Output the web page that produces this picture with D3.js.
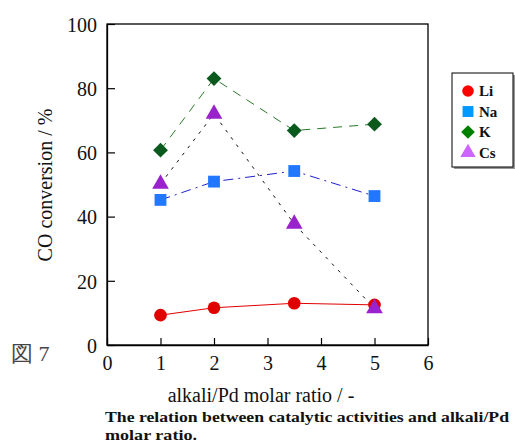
<!DOCTYPE html>
<html>
<head>
<meta charset="utf-8">
<script src="https://cdn.jsdelivr.net/npm/d3@7"></script>
<style>
  body { margin: 0; background: #fff; }
</style>
</head>
<body>
<svg width="515" height="446"></svg>
<script>
const ratios = [1, 2, 3.5, 5];
const li = [9.3, 11.6, 13.0, 12.5];
const na = [45.2, 50.9, 54.2, 46.4];
const k = [60.7, 83.0, 66.8, 68.8];
const cs = [50.2, 72.0, 37.7, 11.4];
const xTicks = [0, 1, 2, 3, 4, 5, 6];
const yTicks = [0, 20, 40, 60, 80, 100];
const seriesNames = ["Li", "Na", "K", "Cs"];

const serif = "Liberation Serif";

const margin = { top: 24, left: 107, right: 87, bottom: 101 };
const width = 515;
const height = 446;
const innerWidth = width - margin.left - margin.right;
const innerHeight = height - margin.top - margin.bottom;

const svg = d3.select("svg");

const xScale = d3.scaleLinear().domain([0, 6]).range([0, innerWidth]);
const yScale = d3.scaleLinear().domain([0, 100]).range([innerHeight, 0]);

const chart = svg
  .append("g")
  .attr("transform", `translate(${margin.left}, ${margin.top})`);

// frame
chart
  .append("rect")
  .attr("width", innerWidth)
  .attr("height", innerHeight)
  .attr("fill", "none")
  .attr("stroke", "#000")
  .attr("stroke-width", 1.3);

// axes with inward ticks
const xAxis = chart
  .append("g")
  .attr("transform", `translate(0, ${innerHeight})`)
  .call(d3.axisBottom(xScale).tickValues(xTicks).tickFormat(d3.format("d"))
    .tickSizeInner(-7).tickSizeOuter(0).tickPadding(11));
const yAxis = chart
  .append("g")
  .call(d3.axisLeft(yScale).tickValues(yTicks).tickFormat(d3.format("d"))
    .tickSizeInner(-8).tickSizeOuter(0).tickPadding(10));
[xAxis, yAxis].forEach((a) => {
  a.attr("font-family", serif).attr("font-size", 20);
  a.select(".domain").attr("stroke-width", 1.3);
  a.selectAll(".tick line").attr("stroke-width", 1.2);
  a.selectAll(".tick text").attr("fill", "#111");
});
yAxis.selectAll(".tick text").attr("dy", "0.36em");

const diamond = {
  draw(ctx, size) {
    const r = Math.sqrt(size / 2);
    ctx.moveTo(0, -r);
    ctx.lineTo(r, 0);
    ctx.lineTo(0, r);
    ctx.lineTo(-r, 0);
    ctx.closePath();
  },
};

const series = [
  { name: "Li", values: li, line: "#e00000", dash: null, shape: d3.symbolCircle, size: 125, fill: "#e00000", legendFill: "#ff0000" },
  { name: "Na", values: na, line: "#1f1fcc", dash: "10,5,2,5", shape: d3.symbolSquare, size: 140, fill: "#2277ff", legendFill: "#0099ff" },
  { name: "K", values: k, line: "#2a7a2a", dash: "9,7", shape: diamond, size: 110, fill: "#0a5a1e", legendFill: "#008000" },
  { name: "Cs", values: cs, line: "#111", dash: "3,6", shape: d3.symbolTriangle, size: 120, fill: "#9922cc", legendFill: "#cc66ff" },
];

const line = d3
  .line()
  .x((d) => xScale(d[0]))
  .y((d) => yScale(d[1]));

series.forEach((s) => {
  const pts = ratios.map((r, i) => [r, s.values[i]]);
  chart
    .append("path")
    .datum(pts)
    .attr("d", line)
    .attr("fill", "none")
    .attr("stroke", s.line)
    .attr("stroke-width", 1)
    .attr("stroke-dasharray", s.dash);
});

series.forEach((s) => {
  const pts = ratios.map((r, i) => [r, s.values[i]]);
  chart
    .selectAll(null)
    .data(pts)
    .enter()
    .append("path")
    .attr("d", d3.symbol().type(s.shape).size(s.size))
    .attr("transform", (d) => `translate(${xScale(d[0])}, ${yScale(d[1])})`)
    .attr("fill", s.fill);
});

function label(x, y, txt, size, opts = {}) {
  return svg
    .append("text")
    .attr("x", x)
    .attr("y", y)
    .attr("text-anchor", opts.anchor || "start")
    .attr("font-size", size)
    .attr("font-weight", opts.bold ? "bold" : "normal")
    .attr("fill", "#111")
    .attr("font-family", opts.family || serif)
    .text(txt);
}

// axis titles
label(-185, 52, "CO conversion / %", 20, { anchor: "middle" }).attr("transform", "rotate(-90)");
label(261, 402, "alkali/Pd molar ratio / -", 20, { anchor: "middle" });

// legend
const legend = svg.append("g").attr("transform", "translate(452, 73)");
legend
  .append("rect")
  .attr("x", 2)
  .attr("y", 2)
  .attr("width", 61)
  .attr("height", 94)
  .attr("fill", "#999");
legend
  .append("rect")
  .attr("width", 61)
  .attr("height", 94)
  .attr("fill", "#fff")
  .attr("stroke", "#000")
  .attr("stroke-width", 1);
series.forEach((s, i) => {
  const y = 18 + i * 20.5;
  legend
    .append("path")
    .attr("d", d3.symbol().type(s.shape).size(s.size * 0.85))
    .attr("transform", `translate(16, ${y})`)
    .attr("fill", s.legendFill);
  legend
    .append("text")
    .attr("x", 27)
    .attr("y", y + 5)
    .attr("font-size", 15)
    .attr("font-weight", "bold")
    .attr("fill", "#111")
    .attr("font-family", serif)
    .text(seriesNames[i]);
});

// figure label and caption
label(11, 361, "図 7", 22, { family: "serif" }).attr("fill", "#444");
label(105, 422, "The relation between catalytic activities and alkali/Pd", 15.5, { bold: true })
  .attr("textLength", 404)
  .attr("lengthAdjust", "spacingAndGlyphs");
label(105, 440, "molar ratio.", 15.5, { bold: true })
  .attr("textLength", 92)
  .attr("lengthAdjust", "spacingAndGlyphs");
</script>
</body>
</html>
